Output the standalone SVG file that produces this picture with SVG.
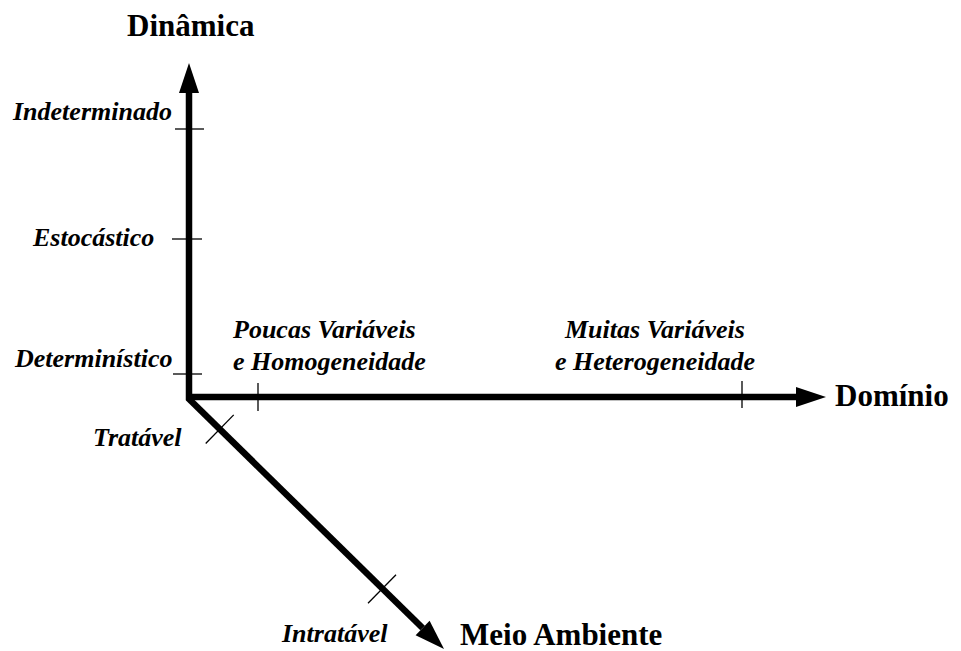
<svg xmlns="http://www.w3.org/2000/svg" width="961" height="651" viewBox="0 0 961 651">
  <style>
    .axis { fill: none; stroke: #000; stroke-width: 6.5; stroke-linecap: butt; stroke-linejoin: miter; }
    .tick { stroke: #000; stroke-width: 1.3; }
    .title { font-family: "Liberation Serif", "Times New Roman", serif; font-weight: bold; font-size: 31px; fill: #000; }
    .label { font-family: "Liberation Serif", "Times New Roman", serif; font-weight: bold; font-style: italic; font-size: 26px; fill: #000; }
  </style>
  <defs>
    <marker id="head" markerUnits="userSpaceOnUse" markerWidth="30" markerHeight="20" refX="0" refY="10" orient="auto" overflow="visible">
      <path d="M0,0 L30,10 L0,20 Z" fill="#000"/>
    </marker>
  </defs>
  <rect width="961" height="651" fill="#fff"/>

  <!-- the three axes, each ending in an arrowhead -->
  <g id="connectors">
    <path class="axis" d="M189,400 V93" marker-end="url(#head)"/>
    <path class="axis" d="M186,397 H796" marker-end="url(#head)"/>
    <path class="axis" d="M188,398 L422.6,628" marker-end="url(#head)"/>
  </g>

  <!-- Dynamics axis (vertical) -->
  <g id="axis-dinamica">
    <text class="title" x="127" y="36">Dinâmica</text>
    <line class="tick" x1="175" y1="129" x2="204" y2="129"/>
    <text class="label" x="13" y="120">Indeterminado</text>
    <line class="tick" x1="172" y1="239" x2="202" y2="239"/>
    <text class="label" x="33" y="246">Estocástico</text>
    <line class="tick" x1="173" y1="374" x2="202" y2="374"/>
    <text class="label" x="15" y="367">Determinístico</text>
  </g>

  <!-- Domain axis (horizontal) -->
  <g id="axis-dominio">
    <text class="title" x="835" y="406">Domínio</text>
    <line class="tick" x1="258" y1="383" x2="258" y2="411"/>
    <text class="label" x="233" y="338">Poucas Variáveis</text>
    <text class="label" x="233" y="370">e Homogeneidade</text>
    <line class="tick" x1="742" y1="381" x2="742" y2="408"/>
    <text class="label" x="565" y="338">Muitas Variáveis</text>
    <text class="label" x="555" y="370">e Heterogeneidade</text>
  </g>

  <!-- Environment axis (diagonal) -->
  <g id="axis-meio-ambiente">
    <text class="title" x="460" y="645">Meio Ambiente</text>
    <line class="tick" x1="205.7" y1="443.5" x2="233.7" y2="414.9"/>
    <text class="label" x="93" y="446">Tratável</text>
    <line class="tick" x1="368" y1="603.3" x2="396" y2="574.7"/>
    <text class="label" x="282" y="642">Intratável</text>
  </g>
</svg>
